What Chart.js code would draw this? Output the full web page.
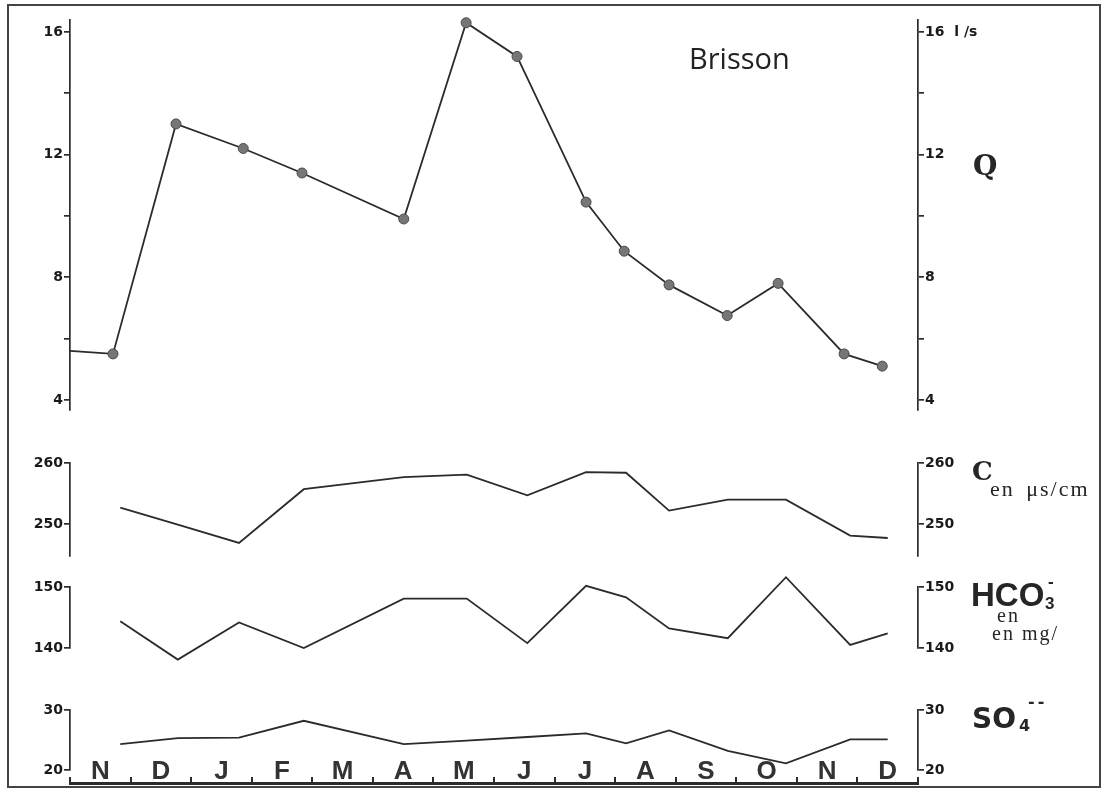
<!DOCTYPE html>
<html>
<head>
<meta charset="utf-8">
<title>Brisson</title>
<script src="https://cdn.jsdelivr.net/npm/chart.js@4.4.0/dist/chart.umd.min.js"></script>
<style>
  html, body { margin: 0; padding: 0; background: #fff; }
  #page { position: relative; width: 1103px; height: 789px; overflow: hidden; }
  #page canvas { position: absolute; left: 0; top: 0; }
  .frame { position: absolute; left: 7px; top: 4px; width: 1094px; height: 784px; box-sizing: border-box; border: 2px solid #444; }
  .lbl { position: absolute; color: #262626; white-space: nowrap; line-height: 1; }
  .sans { font-family: "DejaVu Sans", sans-serif; font-weight: bold; }
  .helv { font-family: "Liberation Sans", sans-serif; font-weight: bold; }
  .serif { font-family: "Liberation Serif", serif; }
</style>
</head>
<body>
<div id="page">
  <div class="frame"></div>
  <canvas id="chartQ" width="1103" height="789"></canvas>
  <canvas id="chartC" width="1103" height="789"></canvas>
  <canvas id="chartHCO3" width="1103" height="789"></canvas>
  <canvas id="chartSO4" width="1103" height="789"></canvas>
  <canvas id="chartMonths" width="1103" height="789"></canvas>

  <div class="lbl" style="left:689px;top:43px;font-size:29px;font-family:'Open Sans';color:#222;">Brisson</div>
  <div class="lbl" style="left:973px;top:152px;font-size:28px;font-family:'DejaVu Serif';font-weight:bold;">Q</div>

  <div class="lbl" style="left:972px;top:458px;font-size:26px;font-family:'DejaVu Serif';font-weight:bold;">C</div>
  <div class="lbl serif" style="left:990px;top:478px;font-size:22px;letter-spacing:2px;word-spacing:4px;">en μs/cm</div>

  <div class="lbl helv" style="left:971px;top:578px;font-size:33px;">HCO</div>
  <div class="lbl helv" style="left:1045px;top:595px;font-size:17px;">3</div>
  <div class="lbl helv" style="left:1048px;top:573px;font-size:17px;">-</div>
  <div class="lbl serif" style="left:997px;top:605px;font-size:20px;letter-spacing:2px;">en</div>
  <div class="lbl serif" style="left:992px;top:623px;font-size:20px;letter-spacing:2px;">en mg/</div>

  <div class="lbl sans" style="left:972px;top:705px;font-size:28px;">SO</div>
  <div class="lbl sans" style="left:1019px;top:718px;font-size:16px;">4</div>
  <div class="lbl sans" style="left:1028px;top:694px;font-size:16px;letter-spacing:3px;">--</div>
</div>

<script>
document.addEventListener("DOMContentLoaded", function () {
    // Mois (novembre -> décembre de l'année suivante)
    var months = ["N", "D", "J", "F", "M", "A", "M", "J", "J", "A", "S", "O", "N", "D"];

    // Débit Q (l/s) : dates en mois depuis le début de novembre
    var qDates = [0, 0.71, 1.75, 2.86, 3.83, 5.51, 6.54, 7.38, 8.52, 9.15, 9.89, 10.85, 11.69, 12.78, 13.41];
    var qValues = [5.6, 5.5, 13.0, 12.2, 11.4, 9.9, 16.3, 15.2, 10.45, 8.85, 7.75, 6.75, 7.8, 5.5, 5.1];

    // Prélèvements chimiques
    var chemDates = [0.83, 1.78, 2.79, 3.86, 5.51, 6.55, 7.55, 8.52, 9.18, 9.89, 10.86, 11.82, 12.88, 13.5];
    var cValues = [252.7, 249.9, 246.9, 255.7, 257.7, 258.1, 254.7, 258.5, 258.4, 252.2, 254.0, 254.0, 248.1, 247.7];
    var hco3Values = [144.4, 138.1, 144.2, 140.0, 148.1, 148.1, 140.8, 150.2, 148.3, 143.2, 141.6, 151.6, 140.5, 142.4];
    var so4Values = [24.3, 25.3, 25.4, 28.2, 24.3, 24.9, 25.5, 26.1, 24.45, 26.6, 23.2, 21.1, 25.1, 25.1];

    // Graduations
    var qTicks = [4, 6, 8, 10, 12, 14, 16];
    var cTicks = [250, 260];
    var hco3Ticks = [140, 150];
    var so4Ticks = [20, 30];

    var ink = "#2b2b2b";
    var tickFont = { family: "DejaVu Sans", size: 14, weight: "bold" };

    function points(dates, values) {
        return dates.map(function (d, i) { return { x: d, y: values[i] }; });
    }

    function sideAxis(pos, min, max, ticks, label, width) {
        return {
            type: "linear",
            position: pos,
            min: min,
            max: max,
            afterBuildTicks: function (s) {
                s.ticks = ticks.map(function (v) { return { value: v }; });
            },
            afterFit: function (s) { s.width = width; },
            border: { display: true, color: ink, width: 1.7 },
            grid: { display: true, drawOnChartArea: false, drawTicks: true, tickLength: 6, color: ink, lineWidth: 1.7 },
            ticks: { color: "#1a1a1a", font: tickFont, padding: 1, autoSkip: false, callback: label }
        };
    }

    function plain(v) { return String(v); }

    function panel(id, top, bottom, dataset, min, max, ticks, leftLabel, rightLabel) {
        return new Chart(document.getElementById(id).getContext("2d"), {
            type: "line",
            data: { datasets: [dataset] },
            options: {
                responsive: false,
                animation: false,
                events: [],
                layout: { padding: { left: 8, right: 0, top: top, bottom: 789 - bottom } },
                plugins: { legend: { display: false }, tooltip: { enabled: false } },
                scales: {
                    x: { type: "linear", min: 0, max: 14, display: false },
                    y: sideAxis("left", min, max, ticks, leftLabel, 62),
                    y2: sideAxis("right", min, max, ticks, rightLabel, 185)
                }
            }
        });
    }

    function lineSet(label, data) {
        return {
            label: label,
            data: data,
            borderColor: ink,
            borderWidth: 1.8,
            pointRadius: 0,
            tension: 0,
            clip: false
        };
    }

    // Q
    var qSet = lineSet("Q", points(qDates, qValues));
    qSet.pointRadius = function (ctx) { return ctx.dataIndex === 0 ? 0 : 5; };
    qSet.pointBackgroundColor = "#767676";
    qSet.pointBorderColor = "#4a4a4a";
    qSet.pointBorderWidth = 1;
    panel("chartQ", 20, 410, qSet, 3.67, 16.39, qTicks,
        function (v) { return v % 4 === 0 ? String(v) : ""; },
        function (v) { return v === 16 ? "16  l /s" : (v % 4 === 0 ? String(v) : ""); });

    // Conductivité
    panel("chartC", 463, 556, lineSet("C", points(chemDates, cValues)), 244.75, 260, cTicks, plain, plain);

    // HCO3-
    panel("chartHCO3", 587, 648, lineSet("HCO3", points(chemDates, hco3Values)), 140, 150, hco3Ticks, plain, plain);

    // SO4--
    panel("chartSO4", 710, 770, lineSet("SO4", points(chemDates, so4Values)), 20, 30, so4Ticks, plain, plain);

    // Axe des mois (lettres au-dessus du trait)
    new Chart(document.getElementById("chartMonths").getContext("2d"), {
        type: "line",
        data: { labels: months, datasets: [] },
        options: {
            responsive: false,
            animation: false,
            events: [],
            layout: { padding: { left: 70, right: 185, top: 753, bottom: 0 } },
            plugins: { legend: { display: false }, tooltip: { enabled: false } },
            scales: {
                x: {
                    type: "category",
                    position: "top",
                    offset: true,
                    afterFit: function (s) { s.height = 30; },
                    border: { display: true, color: ink, width: 3 },
                    grid: { display: true, offset: true, drawOnChartArea: false, drawTicks: true, tickLength: 6, color: ink, lineWidth: 2 },
                    ticks: {
                        color: "#333",
                        font: { family: "Liberation Sans", size: 26, weight: "bold" },
                        padding: -10.6,
                        autoSkip: false,
                        maxRotation: 0
                    }
                },
                y: { display: false }
            }
        }
    });
});
</script>
</body>
</html>
